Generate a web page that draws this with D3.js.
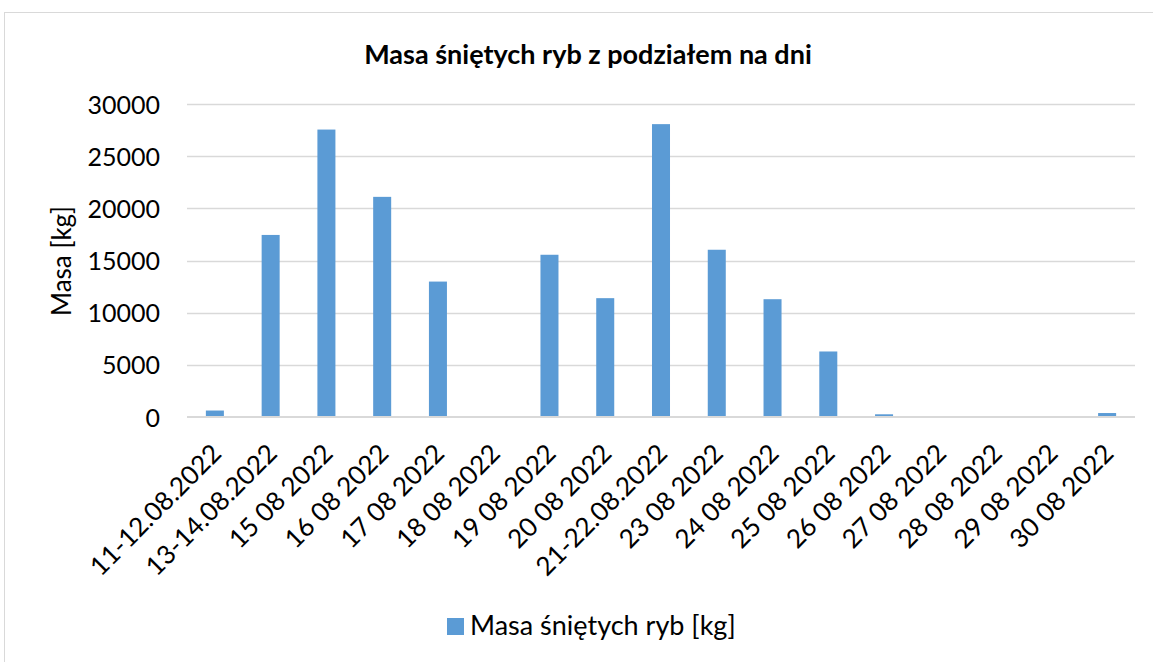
<!DOCTYPE html>
<html>
<head>
<meta charset="utf-8">
<script src="https://cdn.jsdelivr.net/npm/d3@7"></script>
<style>
  body { margin: 0; background: #fff; }
  text { font-family: Lato, "Open Sans", sans-serif; fill: #000; }
</style>
</head>
<body>
<svg id="chart" width="1153" height="662"></svg>
<script>

/*************************** Data ***************************/

var categories = ["11-12.08.2022", "13-14.08.2022", "15 08 2022", "16 08 2022", "17 08 2022", "18 08 2022",
  "19 08 2022", "20 08 2022", "21-22.08.2022", "23 08 2022", "24 08 2022", "25 08 2022", "26 08 2022",
  "27 08 2022", "28 08 2022", "29 08 2022", "30 08 2022"];
var masa = [620, 17450, 27550, 21100, 12980, 0, 15550, 11390, 28070, 16030, 11290, 6280, 260, 0, 0, 0, 380];
var yTicks = [0, 5000, 10000, 15000, 20000, 25000, 30000];

var title = "Masa śniętych ryb z podziałem na dni";
var yTitle = "Masa [kg]";
var seriesName = "Masa śniętych ryb [kg]";

/*************************** Setup ***************************/

var svg = d3.select("#chart");
var bar_color = "#5B9BD5", grid_color = "#D9D9D9";
var left = 187, right = 1135, top_ = 104, bottom = 417;

// chart area border
svg.append("rect")
  .attr("x", 4.5).attr("y", 12.5).attr("width", 1160).attr("height", 660)
  .style("fill", "none").style("stroke", grid_color).style("stroke-width", 1);

var x = d3.scaleBand().domain(categories).range([left, right]).paddingInner(0.677).paddingOuter(0.3385);
var y = d3.scaleLinear().domain([0, 30000]).range([bottom, top_]);

/*************************** Gridlines ***************************/

svg.append("g").selectAll("line").data(yTicks.slice(1)).enter().append("line")
  .attr("x1", left).attr("x2", right)
  .attr("y1", function(d){ return Math.round(y(d)) + 0.5; })
  .attr("y2", function(d){ return Math.round(y(d)) + 0.5; })
  .style("stroke", grid_color).style("stroke-width", 1.5);

/*************************** Bars ***************************/

svg.append("g").selectAll("rect").data(masa).enter().append("rect")
  .attr("x", function(d, i){ return x(categories[i]); })
  .attr("width", x.bandwidth())
  .attr("y", function(d){ return y(d); })
  .attr("height", function(d){ return y(0) - y(d); })
  .style("fill", bar_color);

// category axis line
svg.append("line")
  .attr("x1", left).attr("x2", right).attr("y1", y(0)).attr("y2", y(0))
  .style("stroke", grid_color).style("stroke-width", 2);

/*************************** Axes ***************************/

var yAxis = svg.append("g")
  .attr("transform", "translate(" + (left - 27) + ",0)")
  .call(d3.axisLeft(y).tickValues(yTicks).tickSize(0).tickPadding(0).tickFormat(d3.format("d")));
yAxis.select(".domain").remove();
yAxis.selectAll("text").style("font-size", "25px").attr("dy", "0.36em");

var xAxis = svg.append("g")
  .attr("transform", "translate(0," + bottom + ")")
  .call(d3.axisBottom(x).tickSize(0).tickPadding(0));
xAxis.select(".domain").remove();
xAxis.selectAll("text")
  .style("font-size", "26px")
  .style("text-anchor", "end")
  .attr("dy", 0).attr("y", 0).attr("x", 0)
  .attr("transform", "translate(8,38) rotate(-45)");

/*************************** Titles & Legend ***************************/

svg.append("text")
  .attr("x", 588).attr("y", 64)
  .style("font-size", "27px").style("font-weight", "bold").style("text-anchor", "middle")
  .text(title);

svg.append("text")
  .attr("transform", "translate(71,261) rotate(-90)")
  .style("font-size", "26px").style("text-anchor", "middle")
  .text(yTitle);

var legend = svg.append("g").attr("transform", "translate(447,618)");
legend.append("rect").attr("width", 17).attr("height", 17).style("fill", bar_color);
legend.append("text").attr("x", 23).attr("y", 17)
  .style("font-size", "27px")
  .text(seriesName);

</script>
</body>
</html>
